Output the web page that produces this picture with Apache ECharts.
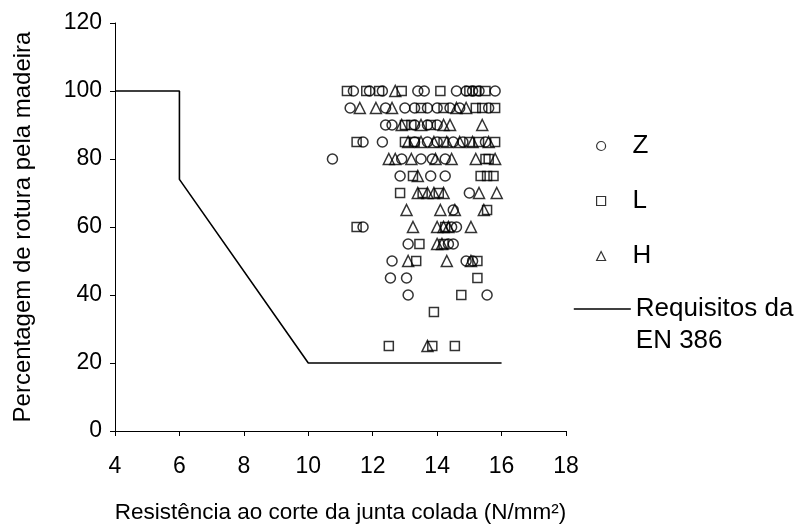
<!DOCTYPE html>
<html>
<head>
<meta charset="utf-8">
<script src="https://cdn.jsdelivr.net/npm/echarts@6/dist/echarts.min.js"></script>
<style>
  html, body { margin: 0; padding: 0; background: #fff; }
  #chart { width: 796px; height: 531px; }
</style>
</head>
<body>
<div id="chart"></div>
<script>
// Z
var zX = [11.4, 11.9, 12.3, 13.4, 13.6, 14.6, 14.9, 15.1, 15.3, 15.8,
  11.3, 12.4, 13.0, 13.3, 13.7, 14.0, 14.4, 14.7, 15.6,
  12.4, 12.6, 13.3, 13.7, 14.0,
  11.7, 12.3, 13.3, 13.7, 14.0, 14.5, 14.8, 15.5,
  10.75, 12.9, 13.5, 13.85, 14.25,
  12.85, 13.8, 14.25,
  15.0, 14.5,
  11.7, 14.45, 14.6,
  13.1, 14.35, 14.5,
  12.6, 14.9, 15.1,
  12.55, 13.05,
  13.1, 15.55];
var zY = [100, 100, 100, 100, 100, 100, 100, 100, 100, 100,
  95, 95, 95, 95, 95, 95, 95, 95, 95,
  90, 90, 90, 90, 90,
  85, 85, 85, 85, 85, 85, 85, 85,
  80, 80, 80, 80, 80,
  75, 75, 75,
  70, 65,
  60, 60, 60,
  55, 55, 55,
  50, 50, 50,
  45, 45,
  40, 40];

// L
var lX = [11.2, 11.8, 12.2, 12.9, 14.1, 15.0, 15.2, 15.5,
  13.5, 14.2, 15.2, 15.4, 15.8,
  13.0, 13.2, 13.8,
  11.5, 13.0, 13.3, 14.2, 15.0, 15.3, 15.8,
  15.5, 15.6,
  13.25, 15.35, 15.55, 15.75,
  12.85, 13.55, 14.05,
  15.55,
  11.5, 14.25,
  13.45, 14.2,
  13.35, 15.25,
  15.25,
  14.75,
  13.9,
  12.5, 13.85, 14.55];
var lY = [100, 100, 100, 100, 100, 100, 100, 100,
  95, 95, 95, 95, 95,
  90, 90, 90,
  85, 85, 85, 85, 85, 85, 85,
  80, 80,
  75, 75, 75, 75,
  70, 70, 70,
  65,
  60, 60,
  55, 55,
  50, 50,
  45,
  40,
  35,
  25, 25, 25];

// H
var hX = [12.7,
  11.6, 12.1, 12.6, 14.6, 14.9,
  12.9, 13.5, 14.2, 14.4, 15.4,
  13.1, 13.5, 13.9, 14.3, 14.7, 15.1, 15.6,
  12.5, 12.7, 13.2, 13.95, 14.45, 15.2, 15.8,
  13.4,
  13.4, 13.7, 13.9, 14.2, 15.3, 15.85,
  13.05, 14.1, 14.55, 15.45,
  13.25, 14.0, 14.2, 14.35, 15.05,
  14.0, 14.15,
  13.1, 14.3, 15.05,
  13.7];
var hY = [100,
  95, 95, 95, 95, 95,
  90, 90, 90, 90, 90,
  85, 85, 85, 85, 85, 85, 85,
  80, 80, 80, 80, 80, 80, 80,
  75,
  70, 70, 70, 70, 70, 70,
  65, 65, 65, 65,
  60, 60, 60, 60, 60,
  55, 55,
  50, 50, 50,
  25];

// Requisitos da EN 386
var reqX = [4, 6, 6, 10, 16];
var reqY = [100, 100, 74, 20, 20];

function pairs(xs, ys) {
  return xs.map(function (x, i) { return [x, ys[i]]; });
}

var font = 'Liberation Sans, Arial, sans-serif';
var chart = echarts.init(document.getElementById('chart'), null, { renderer: 'canvas' });

var markStyle = {
  color: 'rgba(0,0,0,0)',
  borderColor: '#000',
  borderWidth: 1.5
};

var option = {
  animation: false,
  backgroundColor: '#fff',
  textStyle: { fontFamily: font, color: '#000' },
  grid: { left: 115, top: 23, right: 230, bottom: 100, containLabel: false },
  legend: [
    {
      data: ['Z', 'L', 'H'],
      orient: 'vertical',
      left: 591,
      top: 128,
      itemWidth: 9,
      itemHeight: 9,
      itemGap: 29,
      textStyle: { fontSize: 26, color: '#000', fontFamily: font, padding: [0, 0, 0, 22] },
      itemStyle: { borderWidth: 1.2 }
    },
    {
      data: [{ name: 'Requisitos da EN 386' }],
      // leading blank line keeps the legend line level with the first text line
      formatter: function () { return ' \nRequisitos da\nEN 386'; },
      orient: 'vertical',
      left: 568,
      top: 256,
      itemWidth: 57,
      itemHeight: 9,
      textStyle: { fontSize: 26, color: '#000', fontFamily: font, lineHeight: 32 },
      itemStyle: { opacity: 0 },
      lineStyle: { color: '#000', width: 1.6 }
    }
  ],
  xAxis: {
    type: 'value',
    min: 4,
    max: 18,
    interval: 2,
    name: 'Resistência ao corte da junta colada (N/mm²)',
    nameLocation: 'middle',
    nameGap: 70,
    nameTextStyle: { fontSize: 22.5, color: '#000', fontFamily: font },
    axisLine: { lineStyle: { color: '#000', width: 1 } },
    axisTick: { show: true, inside: false, length: 5, lineStyle: { color: '#000' } },
    axisLabel: { fontSize: 23, color: '#000', fontFamily: font, margin: 24 },
    splitLine: { show: false }
  },
  yAxis: {
    type: 'value',
    min: 0,
    max: 120,
    interval: 20,
    name: 'Percentagem de rotura pela madeira',
    nameLocation: 'middle',
    nameGap: 80,
    nameTextStyle: { fontSize: 24, color: '#000', fontFamily: font },
    axisLine: { show: true, lineStyle: { color: '#000', width: 1 } },
    axisTick: { show: true, inside: false, length: 5, lineStyle: { color: '#000' } },
    axisLabel: { fontSize: 23, color: '#000', fontFamily: font, margin: 13 },
    splitLine: { show: false }
  },
  series: [
    {
      name: 'Z',
      type: 'scatter',
      symbol: 'circle',
      symbolSize: 10,
      itemStyle: markStyle,
      data: pairs(zX, zY)
    },
    {
      name: 'L',
      type: 'scatter',
      symbol: 'rect',
      symbolSize: 9,
      itemStyle: markStyle,
      data: pairs(lX, lY)
    },
    {
      name: 'H',
      type: 'scatter',
      symbol: 'triangle',
      symbolSize: 11,
      itemStyle: markStyle,
      data: pairs(hX, hY)
    },
    {
      name: 'Requisitos da EN 386',
      type: 'line',
      showSymbol: false,
      symbol: 'none',
      lineStyle: { color: '#000', width: 1.6 },
      itemStyle: { color: '#000' },
      data: pairs(reqX, reqY)
    }
  ]
};

chart.setOption(option);
</script>
</body>
</html>
